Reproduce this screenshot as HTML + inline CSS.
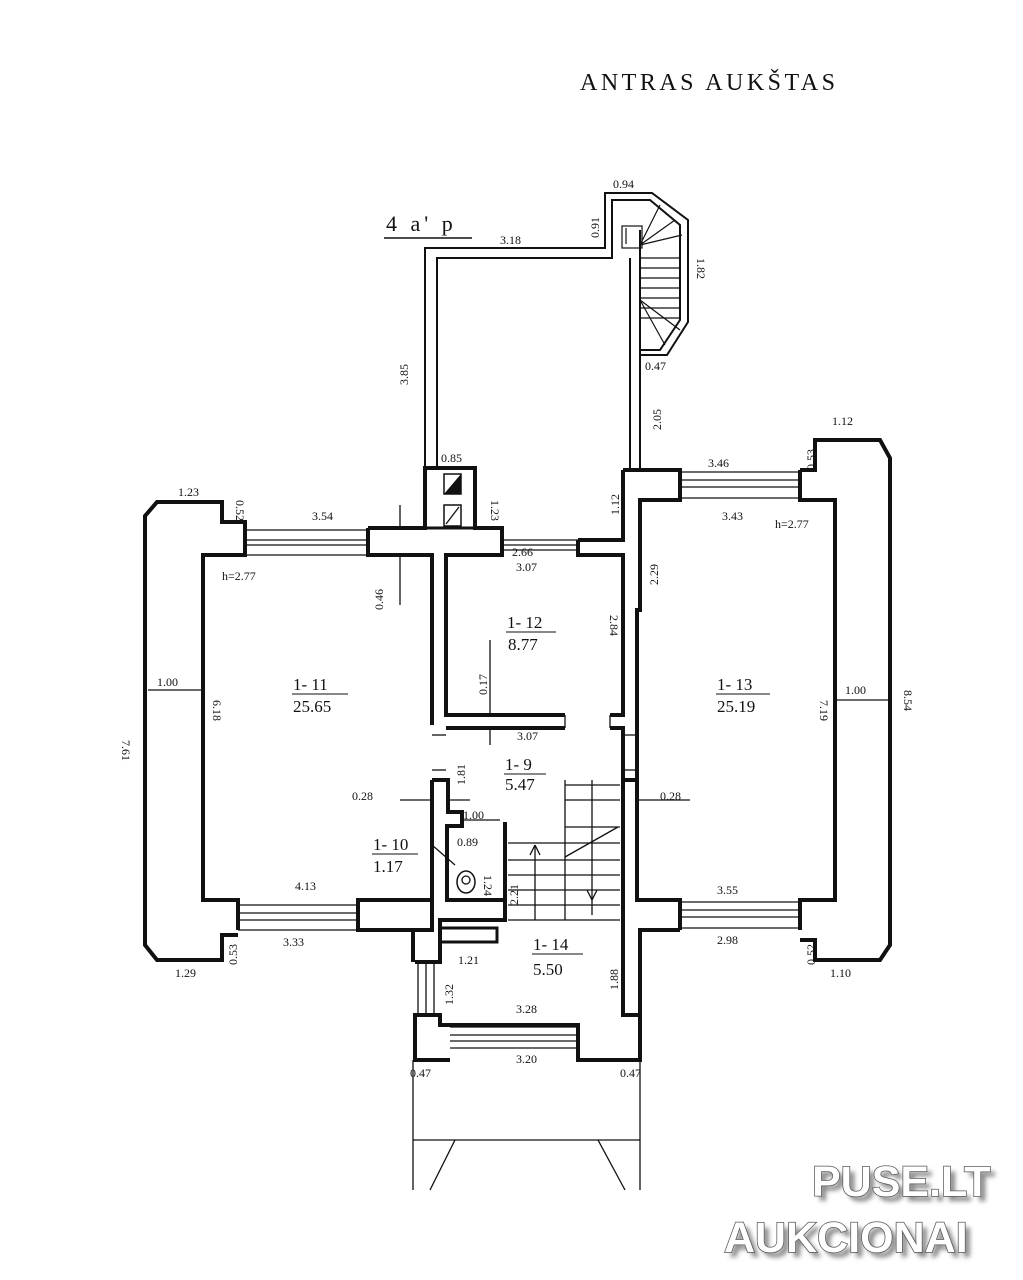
<!DOCTYPE html>
<html><head><meta charset="utf-8"><style>
html,body{margin:0;padding:0;background:#fff;}
svg{display:block;}
text{font-family:"Liberation Serif",serif;fill:#111;}
.d{font-size:12px;}
.r{font-size:17px;}
.wm{font-family:"Liberation Sans",sans-serif;font-weight:bold;fill:#fff;stroke:#555;stroke-width:1.5px;paint-order:stroke;}
.wms{font-family:"Liberation Sans",sans-serif;font-weight:bold;fill:#888;}
</style></head><body>
<svg width="1023" height="1280" viewBox="0 0 1023 1280" xmlns="http://www.w3.org/2000/svg">
<defs><filter id="bl" x="-10%" y="-30%" width="120%" height="160%"><feGaussianBlur stdDeviation="2.5"/></filter></defs>
<rect width="1023" height="1280" fill="#fff"/>
<text x="580" y="90" font-size="24" letter-spacing="3.5">ANTRAS AUKŠTAS</text>
<text x="386" y="231" font-size="22" letter-spacing="4">4 a' p</text>
<line x1="384" y1="238" x2="472" y2="238" stroke="#111" stroke-width="1.5"/>

<g fill="none" stroke="#111" stroke-width="2">
<path d="M425,468 L425,248 L605,248 L605,193 L652,193 L688,220 L688,322 L667,355 L640,355"/>
<path d="M437,468 L437,258 L612,258 L612,200 L650,200 L680,225 L680,320 L660,350 L640,350"/>
<line x1="630" y1="258" x2="630" y2="470"/>
<line x1="640" y1="230" x2="640" y2="470"/>
<g stroke-width="1.2">
<line x1="640" y1="258" x2="680" y2="258"/><line x1="640" y1="268" x2="680" y2="268"/>
<line x1="640" y1="278" x2="680" y2="278"/><line x1="640" y1="288" x2="680" y2="288"/>
<line x1="640" y1="298" x2="680" y2="298"/><line x1="640" y1="308" x2="680" y2="308"/>
<line x1="640" y1="318" x2="680" y2="318"/>
<line x1="640" y1="245" x2="660" y2="205"/><line x1="640" y1="245" x2="675" y2="220"/><line x1="640" y1="245" x2="682" y2="235"/>
<line x1="640" y1="300" x2="680" y2="330"/><line x1="640" y1="300" x2="665" y2="345"/>
<rect x="622" y="226" width="20" height="22"/>
<line x1="626" y1="228" x2="626" y2="244"/>
</g>
</g>

<g fill="none" stroke="#111" stroke-width="4">
<path d="M245,530 L245,522 L222,522 L222,502 L157,502 L145,516 L145,945 L157,960 L222,960 L222,935 L238,935"/>
<path d="M245,530 L245,555 L203,555 L203,900 L238,900 L238,930"/>
<path d="M368,528 L368,555 L432,555 L432,725"/>
<path d="M368,528 L425,528 L425,468 L475,468 L475,528 L502,528 L502,555 L446,555 L446,715 L565,715"/>
<path d="M578,540 L578,555 L623,555 L623,715 L610,715"/>
<path d="M432,780 L432,900 L358,900 L358,930 L413,930 L413,962"/>
<path d="M446,728 L565,728"/><path d="M610,728 L623,728 L623,780 L637,780 L637,900 L680,900 L680,930"/>
<path d="M432,780 L448,780 L448,812 L462,812 L462,826 L447,826 L447,900 L505,900 L505,822"/>
<path d="M432,900 L432,930 L413,930"/>
<path d="M505,822 L505,920 L440,920 L440,962 L415,962"/>
<path d="M413,930 L413,962"/>
<rect x="440" y="928" width="57" height="14" stroke-width="3"/>
<path d="M623,780 L623,1015 L640,1015 L640,1060 L578,1060 L578,1025 L440,1025 L440,1015 L415,1015 L415,1060 L450,1060"/>
<path d="M623,470 L680,470 L680,500 L640,500 L640,610 L637,610 L637,780"/>
<path d="M623,470 L623,540 L578,540"/>
<path d="M800,470 L815,470 L815,440 L880,440 L890,458 L890,945 L880,960 L815,960 L815,940 L800,940"/>
<path d="M800,470 L800,500 L835,500 L835,900 L800,900 L800,930"/>
<path d="M680,930 L640,930 L640,1015"/>
<rect x="425" y="468" width="50" height="60" stroke-width="3"/>
</g>

<g stroke="#111" stroke-width="1.3">
<line x1="245" y1="530" x2="368" y2="530"/><line x1="245" y1="540" x2="368" y2="540"/><line x1="245" y1="545" x2="368" y2="545"/><line x1="245" y1="555" x2="368" y2="555"/>
<line x1="502" y1="540" x2="578" y2="540"/><line x1="502" y1="545" x2="578" y2="545"/><line x1="502" y1="550" x2="578" y2="550"/>
<line x1="680" y1="472" x2="800" y2="472"/><line x1="680" y1="480" x2="800" y2="480"/><line x1="680" y1="487" x2="800" y2="487"/><line x1="680" y1="498" x2="800" y2="498"/>
<line x1="238" y1="905" x2="358" y2="905"/><line x1="238" y1="913" x2="358" y2="913"/><line x1="238" y1="920" x2="358" y2="920"/><line x1="238" y1="930" x2="358" y2="930"/>
<line x1="680" y1="902" x2="800" y2="902"/><line x1="680" y1="910" x2="800" y2="910"/><line x1="680" y1="917" x2="800" y2="917"/><line x1="680" y1="928" x2="800" y2="928"/>
<line x1="450" y1="1027" x2="578" y2="1027"/><line x1="450" y1="1035" x2="578" y2="1035"/><line x1="450" y1="1041" x2="578" y2="1041"/><line x1="450" y1="1048" x2="578" y2="1048"/>
<line x1="432" y1="735" x2="446" y2="735"/><line x1="432" y1="770" x2="446" y2="770"/>
<line x1="565" y1="715" x2="565" y2="728"/><line x1="610" y1="715" x2="610" y2="728"/>
<line x1="623" y1="735" x2="637" y2="735"/><line x1="623" y1="770" x2="637" y2="770"/>
<line x1="418" y1="962" x2="418" y2="1015"/><line x1="426" y1="962" x2="426" y2="1015"/><line x1="434" y1="962" x2="434" y2="1015"/>
<line x1="565" y1="780" x2="565" y2="920"/><line x1="592" y1="780" x2="592" y2="915"/>
<line x1="565" y1="785" x2="620" y2="785"/><line x1="565" y1="800" x2="620" y2="800"/><line x1="565" y1="827" x2="620" y2="827"/>
<line x1="508" y1="843" x2="620" y2="843"/><line x1="508" y1="860" x2="620" y2="860"/><line x1="508" y1="875" x2="620" y2="875"/><line x1="508" y1="890" x2="620" y2="890"/><line x1="508" y1="905" x2="620" y2="905"/><line x1="508" y1="920" x2="620" y2="920"/>
<line x1="535" y1="920" x2="535" y2="845"/><line x1="530" y1="855" x2="535" y2="845"/><line x1="540" y1="855" x2="535" y2="845"/>
<line x1="565" y1="857" x2="618" y2="827"/>
<line x1="592" y1="900" x2="587" y2="890"/><line x1="592" y1="900" x2="597" y2="890"/>
<line x1="413" y1="1060" x2="413" y2="1190"/><line x1="640" y1="1060" x2="640" y2="1190"/>
<line x1="413" y1="1140" x2="640" y2="1140"/>
<line x1="455" y1="1140" x2="430" y2="1190"/><line x1="598" y1="1140" x2="625" y2="1190"/>
<line x1="148" y1="690" x2="203" y2="690"/><line x1="835" y1="700" x2="890" y2="700"/>
<line x1="400" y1="505" x2="400" y2="530"/><line x1="400" y1="555" x2="400" y2="605"/>
<line x1="490" y1="640" x2="490" y2="715"/><line x1="490" y1="728" x2="490" y2="745"/>
<line x1="400" y1="800" x2="432" y2="800"/><line x1="637" y1="800" x2="690" y2="800"/>
<line x1="450" y1="800" x2="470" y2="800"/>
<line x1="460" y1="820" x2="500" y2="820"/>
<line x1="432" y1="845" x2="455" y2="865"/>
</g>
<g fill="#111">
<path d="M444,474 L461,474 L461,494 L444,494 Z" fill="none" stroke="#111" stroke-width="1.5"/>
<path d="M461,474 L461,494 L444,494 Z"/>
<rect x="444" y="505" width="17" height="21" fill="none" stroke="#111" stroke-width="1.5"/>
<line x1="446" y1="524" x2="459" y2="507" stroke="#111" stroke-width="1.3"/>
</g>
<ellipse cx="466" cy="882" rx="9" ry="11" fill="none" stroke="#111" stroke-width="1.5"/>
<circle cx="466" cy="880" r="4" fill="none" stroke="#111" stroke-width="1.3"/>

<text class="r" x="293" y="690">1- 11</text><line x1="292" y1="694" x2="348" y2="694" stroke="#111"/>
<text class="r" x="293" y="712">25.65</text>
<text class="r" x="507" y="628">1- 12</text><line x1="506" y1="632" x2="556" y2="632" stroke="#111"/>
<text class="r" x="508" y="650">8.77</text>
<text class="r" x="717" y="690">1- 13</text><line x1="716" y1="694" x2="770" y2="694" stroke="#111"/>
<text class="r" x="717" y="712">25.19</text>
<text class="r" x="505" y="770">1- 9</text><line x1="504" y1="774" x2="546" y2="774" stroke="#111"/>
<text class="r" x="505" y="790">5.47</text>
<text class="r" x="373" y="850">1- 10</text><line x1="372" y1="854" x2="418" y2="854" stroke="#111"/>
<text class="r" x="373" y="872">1.17</text>
<text class="r" x="533" y="950">1- 14</text><line x1="532" y1="954" x2="583" y2="954" stroke="#111"/>
<text class="r" x="533" y="975">5.50</text>

<g>
<text class="d" x="178" y="496">1.23</text>
<text class="d" x="312" y="520">3.54</text>
<text class="d" x="222" y="580">h=2.77</text>
<text class="d" x="157" y="686">1.00</text>
<text class="d" x="295" y="890">4.13</text>
<text class="d" x="283" y="946">3.33</text>
<text class="d" x="175" y="977">1.29</text>
<text class="d" x="352" y="800">0.28</text>
<text class="d" x="441" y="462">0.85</text>
<text class="d" x="500" y="244">3.18</text>
<text class="d" x="613" y="188">0.94</text>
<text class="d" x="645" y="370">0.47</text>
<text class="d" x="512" y="556">2.66</text>
<text class="d" x="516" y="571">3.07</text>
<text class="d" x="517" y="740">3.07</text>
<text class="d" x="708" y="467">3.46</text>
<text class="d" x="722" y="520">3.43</text>
<text class="d" x="775" y="528">h=2.77</text>
<text class="d" x="832" y="425">1.12</text>
<text class="d" x="845" y="694">1.00</text>
<text class="d" x="717" y="894">3.55</text>
<text class="d" x="717" y="944">2.98</text>
<text class="d" x="830" y="977">1.10</text>
<text class="d" x="660" y="800">0.28</text>
<text class="d" x="463" y="819">1.00</text>
<text class="d" x="457" y="846">0.89</text>
<text class="d" x="458" y="964">1.21</text>
<text class="d" x="516" y="1013">3.28</text>
<text class="d" x="516" y="1063">3.20</text>
<text class="d" x="410" y="1077">0.47</text>
<text class="d" x="620" y="1077">0.47</text>
</g>
<g>
<text class="d" transform="translate(122,740) rotate(90)">7.61</text>
<text class="d" transform="translate(213,700) rotate(90)">6.18</text>
<text class="d" transform="translate(236,500) rotate(90)">0.52</text>
<text class="d" transform="translate(237,965) rotate(-90)">0.53</text>
<text class="d" transform="translate(383,610) rotate(-90)">0.46</text>
<text class="d" transform="translate(408,385) rotate(-90)">3.85</text>
<text class="d" transform="translate(599,238) rotate(-90)">0.91</text>
<text class="d" transform="translate(697,258) rotate(90)">1.82</text>
<text class="d" transform="translate(661,430) rotate(-90)">2.05</text>
<text class="d" transform="translate(491,500) rotate(90)">1.23</text>
<text class="d" transform="translate(619,515) rotate(-90)">1.12</text>
<text class="d" transform="translate(658,585) rotate(-90)">2.29</text>
<text class="d" transform="translate(610,615) rotate(90)">2.84</text>
<text class="d" transform="translate(487,695) rotate(-90)">0.17</text>
<text class="d" transform="translate(820,700) rotate(90)">7.19</text>
<text class="d" transform="translate(904,690) rotate(90)">8.54</text>
<text class="d" transform="translate(815,470) rotate(-90)">0.53</text>
<text class="d" transform="translate(815,965) rotate(-90)">0.52</text>
<text class="d" transform="translate(465,785) rotate(-90)">1.81</text>
<text class="d" transform="translate(484,875) rotate(90)">1.24</text>
<text class="d" transform="translate(518,905) rotate(-90)">2.21</text>
<text class="d" transform="translate(453,1005) rotate(-90)">1.32</text>
<text class="d" transform="translate(618,990) rotate(-90)">1.88</text>
</g>

<g filter="url(#bl)">
<text class="wms" x="817" y="1201" font-size="43">PUSE.LT</text>
<text class="wms" x="729" y="1257" font-size="43">AUKCIONAI</text>
</g>
<text class="wm" x="812" y="1196" font-size="43">PUSE.LT</text>
<text class="wm" x="724" y="1252" font-size="43">AUKCIONAI</text>
</svg>
</body></html>
